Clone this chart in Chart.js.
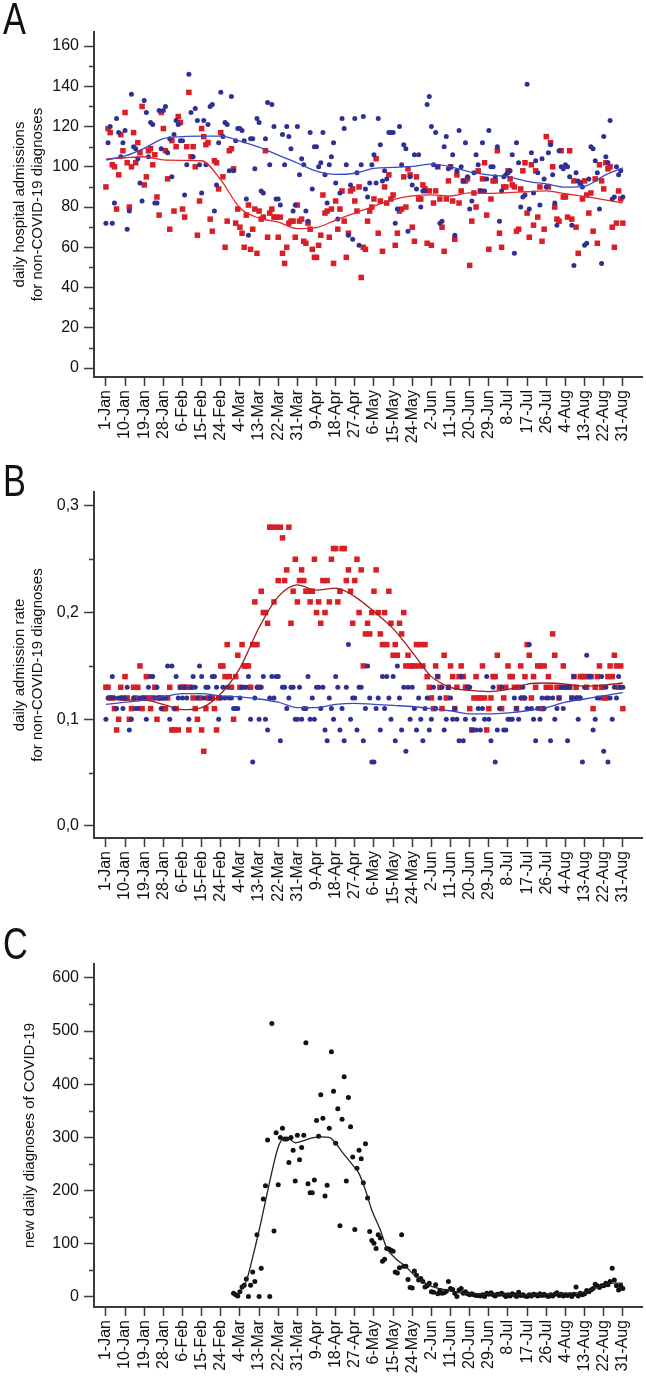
<!DOCTYPE html>
<html>
<head>
<meta charset="utf-8">
<script src="https://cdn.jsdelivr.net/npm/chart.js@4.4.1/dist/chart.umd.min.js"></script>
<style>
  body { margin: 0; background: #fff; width: 646px; height: 1377px; position: relative; overflow: hidden; font-family: 'Liberation Sans', Arial, sans-serif; }
  .panel { position: absolute; left: 0; width: 646px; }
  .letter { position: absolute; left: 3px; font-size: 44px; line-height: 1; color: #111; transform: scaleX(0.78); transform-origin: left top; }
</style>
</head>
<body>
<div class="panel" style="top:0;height:465px"><canvas id="chartA" width="646" height="465"></canvas></div>
<div class="panel" style="top:465px;height:465px"><canvas id="chartB" width="646" height="465"></canvas></div>
<div class="panel" style="top:930px;height:447px"><canvas id="chartC" width="646" height="447"></canvas></div>
<div class="letter" style="top:-3px">A</div>
<div class="letter" style="top:459px">B</div>
<div class="letter" style="top:922px">C</div>
<script>
// x axis: day 0 = 1-Jan, one label every 9 days
const tickDays = [0, 9, 18, 27, 36, 45, 54, 63, 72, 81, 90, 99, 108, 117, 126, 135, 144, 153, 162, 171, 180, 189, 198, 207, 216, 225, 234, 243];
const tickLabels = ['1-Jan', '10-Jan', '19-Jan', '28-Jan', '6-Feb', '15-Feb', '24-Feb', '4-Mar', '13-Mar', '22-Mar', '31-Mar', '9-Apr', '18-Apr', '27-Apr', '6-May', '15-May', '24-May', '2-Jun', '11-Jun', '20-Jun', '29-Jun', '8-Jul', '17-Jul', '26-Jul', '4-Aug', '13-Aug', '22-Aug', '31-Aug'];

// A: daily hospital admissions (blue circles, red squares), one value per day
const admBlue = [
  72, 112, 120, 72, 82, 124, 117, 105, 112,
  118, 69, 78, 136, 110, 109, 104, 92, 83,
  133, 127, 105, 122, 121, 82, 82, 128, 109,
  128, 130, 107, 114, 95, 116, 123, 121, 113,
  113, 86, 101, 146, 127, 105, 129, 123, 101,
  87, 123, 101, 121, 130, 131, 78, 91, 112,
  137, 115, 122, 121, 98, 135, 98, 113, 119,
  119, 118, 113, 84, 66, 114, 114, 99, 124,
  122, 88, 87, 114, 132, 101, 131, 120, 84,
  84, 81, 116, 101, 120, 115, 109, 78, 81,
  120, 96, 104, 101, 78, 73, 117, 89, 110,
  110, 100, 102, 117, 96, 82, 101, 105, 112,
  92, 74, 87, 124, 119, 101, 66, 91, 64,
  124, 97, 61, 101, 125, 89, 85, 92, 101,
  106, 92, 124, 111, 93, 98, 94, 117, 117,
  117, 72, 79, 120, 101, 111, 109, 68, 95,
  91, 106, 89, 106, 80, 88, 88, 131, 135,
  120, 101, 117, 100, 72, 73, 110, 115, 99,
  100, 106, 66, 98, 118, 100, 93, 112, 95,
  79, 83, 97, 106, 101, 88, 112, 88, 94,
  118, 100, 100, 95, 110, 73, 88, 95, 96,
  97, 98, 106, 57, 112, 102, 80, 85, 86,
  141, 79, 107, 87, 103, 97, 81, 104, 94,
  90, 107, 111, 96, 82, 71, 108, 100, 99,
  101, 100, 95, 71, 51, 97, 93, 92, 90,
  61, 62, 94, 110, 109, 103, 97, 79, 52,
  115, 105, 102, 123, 84, 85, 100, 96, 98,
  85
];
const admRed = [
  90, 119, 117, 101, 100, 79, 96, 116, 108,
  127, 102, 80, 100, 117, 102, 112, 107, 130,
  91, 95, 108, 109, 101, 106, 85, 76, 127,
  119, 108, 94, 69, 113, 78, 110, 125, 122,
  79, 75, 110, 137, 105, 110, 100, 66, 83,
  119, 115, 111, 112, 74, 68, 103, 102, 89,
  117, 95, 60, 73, 108, 109, 99, 72, 79,
  70, 67, 60, 76, 81, 59, 69, 79, 57,
  78, 74, 75, 108, 65, 77, 79, 75, 75,
  65, 75, 57, 52, 60, 72, 73, 73, 65,
  81, 73, 74, 63, 62, 72, 69, 59, 55,
  55, 61, 66, 86, 77, 78, 65, 79, 52,
  83, 69, 79, 88, 73, 55, 67, 88, 89,
  83, 78, 90, 45, 60, 59, 73, 78, 80,
  84, 104, 67, 83, 58, 90, 82, 96, 84,
  86, 61, 67, 78, 79, 95, 80, 99, 96,
  70, 63, 95, 84, 84, 91, 89, 62, 88,
  61, 82, 88, 100, 84, 70, 58, 84, 93,
  100, 83, 64, 96, 82, 88, 93, 93, 94,
  51, 73, 87, 80, 98, 88, 94, 102, 76,
  59, 84, 93, 93, 108, 67, 60, 90, 90,
  98, 94, 91, 90, 68, 69, 89, 98, 102,
  77, 65, 101, 71, 98, 75, 90, 63, 69,
  115, 90, 112, 100, 80, 74, 73, 108, 85,
  85, 75, 108, 74, 93, 70, 57, 92, 84,
  93, 86, 77, 87, 68, 94, 62, 101, 93,
  89, 102, 99, 100, 70, 60, 72, 88, 84,
  72
];
// smoothed curves of A, read at the label days
const admBlueTrend = [103.4, 105.4, 109.2, 114, 115, 115.2, 115.2, 112.8, 109.8, 105.8, 101.9, 97.8, 96.2, 96.8, 99.2, 99.7, 100.2, 101.3, 100, 97.5, 96, 95, 92.8, 91.5, 89.9, 90.3, 95.5, 99.5];
const admRedTrend = [103.8, 104.5, 105, 103.4, 103.2, 103, 93.5, 79.5, 74.5, 72.5, 69.3, 69.8, 73.5, 77, 80.5, 83.7, 85.5, 86, 85.5, 87, 86.8, 87.2, 87.6, 88, 86.6, 85.3, 83.7, 82];

// B: daily admission rate
const rateBlue = [
  .10, .12, .12, .14, .12, .11, .12, .12, .11,
  .12, .13, .09, .10, .12, .11, .11, .12, .12,
  .12, .10, .13, .14, .14, .12, .13, .12, .11,
  .12, .12, .15, .10, .15, .11, .14, .12, .13,
  .12, .13, .12, .10, .13, .14, .13, .12, .15,
  .14, .12, .13, .13, .12, .14, .14, .13, .10,
  .12, .13, .12, .13, .12, .12, .11, .11, .11,
  .12, .13, .13, .13, .14, .10, .06, .12, .13,
  .10, .13, .14, .10, .09, .12, .14, .12, .14,
  .14, .08, .13, .13, .11, .12, .13, .13, .10,
  .10, .13, .10, .11, .11, .14, .10, .12, .10,
  .13, .13, .11, .13, .09, .08, .12, .11, .10,
  .14, .13, .09, .11, .08, .13, .17, .10, .12,
  .12, .09, .13, .13, .08, .11, .15, .12, .06,
  .06, .11, .12, .09, .14, .11, .14, .12, .10,
  .14, .08, .15, .12, .09, .13, .07, .13, .10,
  .13, .11, .09, .12, .10, .08, .11, .12, .09,
  .10, .13, .11, .14, .12, .13, .09, .10, .13,
  .12, .10, .11, .10, .08, .14, .08, .10, .13,
  .13, .09, .10, .09, .11, .09, .11, .10, .14,
  .10, .08, .13, .06, .09, .11, .13, .09, .09,
  .10, .10, .10, .12, .11, .10, .12, .13, .12,
  .11, .17, .11, .10, .08, .11, .10, .12, .11,
  .12, .12, .08, .12, .10, .11, .12, .13, .11,
  .13, .08, .13, .12, .14, .12, .10, .12, .06,
  .13, .16, .14, .14, .09, .10, .12, .12, .14,
  .07, .13, .06, .12, .10, .13, .12, .14, .13,
  .13
];
const rateRed = [
  .13, .13, .12, .12, .11, .09, .10, .13, .12,
  .14, .12, .10, .11, .13, .12, .13, .15, .11,
  .12, .14, .12, .11, .12, .13, .10, .12, .12,
  .11, .11, .12, .13, .09, .09, .11, .09, .13,
  .13, .13, .13, .09, .13, .12, .11, .10, .12,
  .09, .07, .11, .12, .12, .12, .11, .09, .12,
  .15, .15, .14, .17, .14, .13, .10, .14, .16,
  .13, .17, .15, .15, .15, .13, .17, .21, .17,
  .13, .22, .20, .20, .19, .28, .28, .21, .28,
  .23, .28, .27, .23, .24, .28, .19, .22, .25,
  .21, .23, .24, .23, .22, .22, .21, .22, .25,
  .20, .21, .19, .23, .20, .23, .21, .25, .26,
  .26, .21, .22, .26, .26, .23, .24, .22, .19,
  .23, .25, .20, .24, .15, .18, .19, .18, .20,
  .22, .24, .20, .18, .17, .20, .17, .22, .19,
  .16, .17, .16, .19, .18, .20, .15, .16, .15,
  .15, .15, .17, .15, .17, .15, .17, .14, .13,
  .12, .11, .15, .14, .13, .11, .16, .12, .13,
  .15, .14, .11, .13, .14, .15, .14, .13, .13,
  .11, .09, .12, .14, .12, .12, .15, .12, .09,
  .11, .12, .14, .14, .16, .13, .11, .12, .13,
  .15, .14, .14, .13, .11, .13, .15, .12, .14,
  .17, .16, .12, .14, .13, .15, .15, .11, .15,
  .13, .14, .13, .18, .16, .13, .12, .13, .15,
  .13, .13, .13, .12, .14, .13, .12, .14, .14,
  .14, .13, .14, .14, .11, .13, .14, .15, .13,
  .12, .12, .14, .15, .14, .16, .15, .13, .15,
  .11
];
const rateBlueTrend = [0.114, 0.116, 0.118, 0.121, 0.124, 0.124, 0.122, 0.121, 0.119, 0.116, 0.111, 0.111, 0.114, 0.115, 0.114, 0.113, 0.112, 0.110, 0.108, 0.105, 0.105, 0.106, 0.108, 0.111, 0.116, 0.119, 0.122, 0.125];
const rateRedTrend = [0.119, 0.118, 0.118, 0.114, 0.109, 0.111, 0.124, 0.148, 0.186, 0.215, 0.226, 0.221, 0.223, 0.215, 0.201, 0.185, 0.163, 0.140, 0.130, 0.127, 0.126, 0.128, 0.133, 0.134, 0.133, 0.131, 0.132, 0.134];

// C: new daily diagnoses of COVID-19, first value is 1-Mar (day 60)
const covidStart = 60;
const covidNew = [
  7, 4, 2, 10, 19, 22, 34, 1, 22, 47,
  29, 117, 1, 54, 184, 209, 295, 1, 514, 124,
  309, 211, 300, 317, 297, 297, 253, 300, 276, 218,
  304, 258, 281, 304, 478, 213, 196, 196, 220, 332,
  302, 380, 336, 190, 210, 317, 461, 387, 289, 354,
  134, 334, 414, 218, 375, 320, 263, 127, 242, 276,
  260, 215, 288, 186, 123, 106, 101, 91, 117, 111,
  67, 71, 91, 90, 88, 86, 47, 45, 55, 117,
  58, 58, 33, 18, 17, 49, 41, 32, 35, 29, 19,
  21, 26, 10, 9, 23, 6, 12, 7, 8, 11,
  29, 16, 14, 7, 1, 13, 16, 7, 10, 6,
  4, 6, 4, 3, 3, 2, 4, 1, 7, 5,
  8, 4, 2, 5, 5, 7, 4, 1, 4, 2,
  6, 4, 1, 9, 3, 4, 2, 1, 4, 2,
  5, 4, 2, 6, 3, 5, 3, 1, 4, 2,
  5, 8, 3, 5, 2, 4, 3, 4, 1, 5,
  19, 2, 7, 4, 6,
  12, 10, 13, 16, 24, 21, 18, 21, 21, 26, 23, 29, 54, 32, 21, 13, 21, 16
];
const covidTrendDays = [62, 66, 69, 72, 75, 78, 81, 83, 86, 89, 93, 97, 101, 105, 108, 111, 116, 119, 122, 125, 129, 132, 136, 141, 145, 152, 160, 168, 184, 199, 215, 223, 230, 238, 243];
const covidTrend = [3, 30, 75, 125, 180, 235, 282, 296, 297, 290, 294, 299, 301, 300, 289, 273, 248, 232, 201, 163, 126, 92, 73, 57, 41, 22, 13, 7, 5, 4, 7, 8, 16, 26, 26];

const fam = "'Liberation Sans', Arial, sans-serif";
const axisColor = '#3a3a3a';
const textColor = '#111';
const blue = '#2e3192';
const blueLine = '#3a49c4';
const red = '#d91e26';

const perDay = (vals, start = 0) => vals.map((v, i) => ({ x: start + i, y: v }));
const onDays = (days, vals) => days.map((d, i) => ({ x: d, y: vals[i] }));

const minorTicks = {
  id: 'minorTicks',
  afterDraw(chart, args, opts) {
    const y = chart.scales.y;
    const ctx = chart.ctx;
    ctx.save();
    ctx.strokeStyle = axisColor;
    ctx.lineWidth = 1.5;
    (opts.values || []).forEach(v => {
      const py = Math.round(y.getPixelForValue(v)) + 0.5;
      ctx.beginPath();
      ctx.moveTo(y.right - 5, py);
      ctx.lineTo(y.right, py);
      ctx.stroke();
    });
    ctx.restore();
  }
};

function trendSet(data, color) {
  return { data, showLine: true, borderColor: color, borderWidth: 1.3, pointRadius: 0, cubicInterpolationMode: 'monotone', order: 0 };
}
function dotSet(data, color, style, r, order) {
  return { data, backgroundColor: color, borderWidth: 0, pointStyle: style, pointRadius: r, order };
}

function panel(id, p) {
  new Chart(document.getElementById(id), {
    type: 'scatter',
    data: { datasets: p.datasets },
    options: {
      responsive: false,
      animation: false,
      events: [],
      layout: { padding: { top: p.top, left: 0, right: 0, bottom: 0 } },
      plugins: { legend: { display: false }, tooltip: { enabled: false }, minorTicks: { values: p.minor } },
      scales: {
        x: {
          type: 'linear', min: -5.6, max: 252,
          afterBuildTicks: s => { s.ticks = tickDays.map(v => ({ value: v })); },
          afterFit: s => { s.height = p.xh; s.paddingLeft = 0; s.paddingRight = 0; },
          grid: { drawOnChartArea: false, tickLength: 9, tickColor: axisColor, tickWidth: 1.5 },
          border: { color: axisColor, width: 2 },
          ticks: {
            autoSkip: false, maxRotation: 90, minRotation: 90, padding: 4,
            color: textColor, font: { family: fam, size: 16 },
            callback: (v, i) => tickLabels[i]
          }
        },
        y: {
          min: p.ymin, max: p.ymax,
          afterBuildTicks: s => { s.ticks = p.yticks.map(v => ({ value: v })); },
          afterFit: s => { s.width = 94; s.paddingTop = 0; s.paddingBottom = 0; },
          grid: { drawOnChartArea: false, tickLength: 10, tickColor: axisColor, tickWidth: 1.5 },
          border: { color: axisColor, width: 2 },
          ticks: { padding: 5, color: textColor, font: { family: fam, size: 16 }, callback: p.fmt },
          title: {
            display: true, text: p.title, color: textColor,
            font: { family: fam, size: 15, lineHeight: 1.2 },
            padding: { top: p.titlePad, bottom: 0 }
          }
        }
      }
    },
    plugins: [minorTicks]
  });
}

panel('chartA', {
  top: 32, xh: 88, ymin: -4.47, ymax: 167,
  yticks: [0, 20, 40, 60, 80, 100, 120, 140, 160],
  minor: [10, 30, 50, 70, 90, 110, 130, 150],
  fmt: v => String(v),
  title: ['daily hospital admissions', 'for non-COVID-19 diagnoses'], titlePad: 11,
  datasets: [
    trendSet(onDays(tickDays, admBlueTrend), blueLine),
    trendSet(onDays(tickDays, admRedTrend), '#e2262c'),
    dotSet(perDay(admBlue), blue, 'circle', 2.5, 1),
    dotSet(perDay(admRed), red, 'rect', 3.9, 2)
  ]
});

panel('chartB', {
  top: 27, xh: 92, ymin: -0.01125, ymax: 0.313,
  yticks: [0, 0.1, 0.2, 0.3],
  minor: [0.05, 0.15, 0.25],
  fmt: v => v.toFixed(1).replace('.', ','),
  title: ['daily admission rate', 'for non-COVID-19 diagnoses'], titlePad: 11,
  datasets: [
    trendSet(onDays(tickDays, rateBlueTrend), blueLine),
    trendSet(onDays(tickDays, rateRedTrend), '#9c1c1f'),
    dotSet(perDay(rateBlue), blue, 'circle', 2.5, 1),
    dotSet(perDay(rateRed), red, 'rect', 3.9, 2)
  ]
});

panel('chartC', {
  top: 34, xh: 70, ymin: -18.8, ymax: 626,
  yticks: [0, 100, 200, 300, 400, 500, 600],
  minor: [50, 150, 250, 350, 450, 550],
  fmt: v => String(v),
  title: 'new daily diagnoses of COVID-19', titlePad: 21,
  datasets: [
    trendSet(onDays(covidTrendDays, covidTrend), '#222'),
    dotSet(perDay(covidNew, covidStart), '#111', 'circle', 2.5, 1)
  ]
});
</script>
</body>
</html>
